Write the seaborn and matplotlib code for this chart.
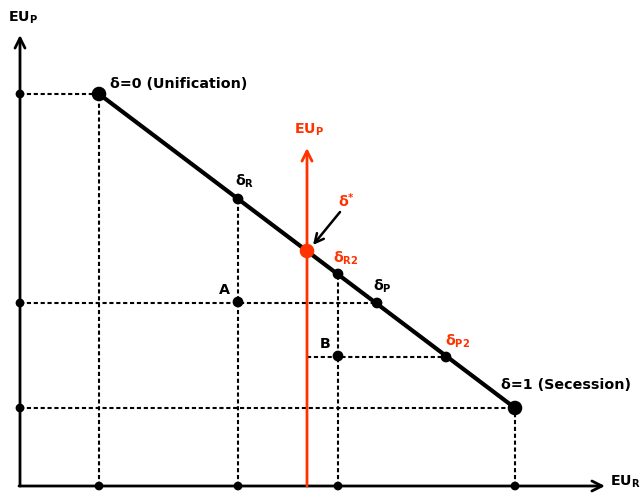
import numpy as np
import pandas as pd
import matplotlib
matplotlib.use("Agg")
import matplotlib.pyplot as plt
import seaborn as sns

sns.set_theme(style="white")
plt.rcParams['font.family'] = ['DejaVu Sans']
plt.rcParams['mathtext.fontset'] = 'dejavusans'
plt.rcParams['mathtext.default'] = 'bf'
plt.rcParams['text.color'] = 'black'

RED = '#ff3300'

# points on the frontier (EU_R, EU_P)
names = ['d0', 'dR', 'dstar', 'dR2', 'dP', 'dP2', 'd1']
eu_r = [0.79, 2.18, 2.87, 3.18, 3.57, 4.26, 4.95]
eu_p = [3.92, 2.87, 2.35, 2.12, 1.83, 1.29, 0.78]
pts = pd.DataFrame({'name': names, 'x': eu_r, 'y': eu_p})

# interior points A, B
inner_names = ['A', 'B']
inner_x = [2.18, 3.18]
inner_y = [1.84, 1.30]

fig = plt.figure(figsize=(6.4, 4.98), dpi=100)
ax = fig.add_axes([0, 0, 1, 1])
ax.set_xlim(-0.2, 6.2)
ax.set_ylim(-0.12, 4.86)
ax.axis('off')

P = dict(zip(names, zip(eu_r, eu_p)))

dash = dict(color='black', lw=1.5, linestyle=(0, (2, 1.3)), zorder=2)
# dashed guides
ax.plot([0, P['d0'][0]], [P['d0'][1]] * 2, **dash)
ax.plot([P['d0'][0]] * 2, [0, P['d0'][1]], **dash)
ax.plot([P['dR'][0]] * 2, [0, P['dR'][1]], **dash)
ax.plot([0, P['dP'][0]], [P['dP'][1]] * 2, **dash)
ax.plot([P['dR2'][0]] * 2, [0, P['dR2'][1]], **dash)
ax.plot([P['dstar'][0], P['dP2'][0]], [P['dP2'][1]] * 2, **dash)
ax.plot([0, P['d1'][0]], [P['d1'][1]] * 2, **dash)
ax.plot([P['d1'][0]] * 2, [0, P['d1'][1]], **dash)

# frontier line
line = pts[pts['name'].isin(['d0', 'd1'])]
sns.lineplot(data=line, x='x', y='y', color='black', lw=3, ax=ax, zorder=3)

# axes with arrows
arr = dict(arrowstyle='->', lw=2, color='black', mutation_scale=18, shrinkA=0, shrinkB=0)
ax.annotate('', xy=(0, 4.51), xytext=(0, 0), arrowprops=arr, zorder=4)
ax.annotate('', xy=(5.85, 0), xytext=(-0.01, 0), arrowprops=arr, zorder=4)

# red EU_P axis
red_arr = dict(arrowstyle='->', lw=2, color=RED, mutation_scale=18, shrinkA=0, shrinkB=0)
ax.annotate('', xy=(P['dstar'][0], 3.38), xytext=(P['dstar'][0], 0), arrowprops=red_arr, zorder=4)

# dots on axes
ax_x = [P['d0'][0], P['dR'][0], P['dR2'][0], P['d1'][0]]
ax_y = [P['d0'][1], P['dP'][1], P['d1'][1]]
sns.scatterplot(x=ax_x, y=[0] * len(ax_x), color='black', s=40, edgecolor='none', ax=ax, zorder=5)
sns.scatterplot(x=[0] * len(ax_y), y=ax_y, color='black', s=40, edgecolor='none', ax=ax, zorder=5)

# frontier dots
small = pts[pts['name'].isin(['dR', 'dR2', 'dP', 'dP2'])]
sns.scatterplot(data=small, x='x', y='y', color='black', s=60, edgecolor='none', ax=ax, zorder=5)
ends = pts[pts['name'].isin(['d0', 'd1'])]
sns.scatterplot(data=ends, x='x', y='y', color='black', s=110, edgecolor='none', ax=ax, zorder=5)
star = pts[pts['name'] == 'dstar']
sns.scatterplot(data=star, x='x', y='y', color=RED, s=110, edgecolor='none', ax=ax, zorder=6)
sns.scatterplot(x=inner_x, y=inner_y, color='black', s=60, edgecolor='none', ax=ax, zorder=5)

fs = 10.3
kw = dict(fontsize=fs, fontweight='bold', va='center')
ax.text(-0.12, 4.68, r'EU$_{P}$', ha='left', **kw)
ax.text(5.9, 0.04, r'EU$_{R}$', ha='left', **kw)
ax.text(2.74, 3.56, r'EU$_{P}$', ha='left', color=RED, **kw)
ax.text(0.90, 4.02, 'δ=0 (Unification)', ha='left', **kw)
ax.text(4.81, 1.01, 'δ=1 (Secession)', ha='left', **kw)
ax.text(2.15, 3.05, r'δ$_{R}$', ha='left', **kw)
ax.text(3.13, 2.28, r'δ$_{R2}$', ha='left', color=RED, **kw)
ax.text(3.53, 2.00, r'δ$_{P}$', ha='left', **kw)
ax.text(4.25, 1.45, r'δ$_{P2}$', ha='left', color=RED, **kw)
ax.text(3.18, 2.85, r'δ$^{*}$', ha='left', color=RED, **kw)
ax.text(2.04, 1.96, inner_names[0], ha='center', **kw)
ax.text(3.05, 1.42, inner_names[1], ha='center', **kw)

# arrow pointing to delta*
ax.annotate('', xy=(P['dstar'][0] + 0.06, P['dstar'][1] + 0.06), xytext=(3.20, 2.74),
            arrowprops=dict(arrowstyle='->', lw=1.8, color='black', mutation_scale=16,
                            shrinkA=0, shrinkB=0), zorder=6)

fig.savefig('out.png', dpi=100)
